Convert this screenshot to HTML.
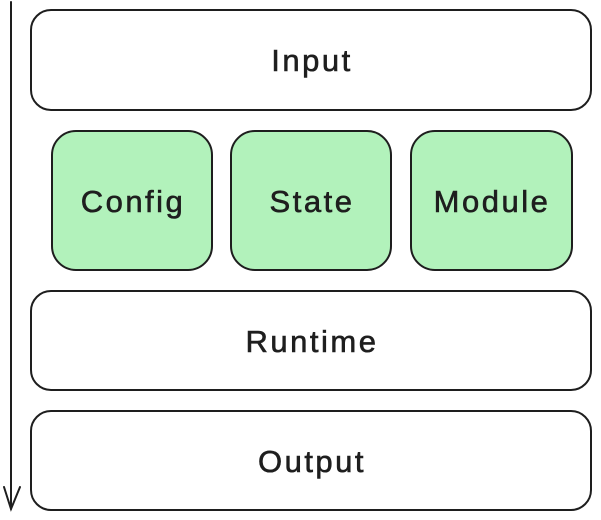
<!DOCTYPE html>
<html><head><style>html,body{margin:0;padding:0;background:#fff}svg{display:block}</style></head>
<body>
<svg width="601" height="520" viewBox="0 0 601 520" xmlns="http://www.w3.org/2000/svg">
<g fill="none" stroke="#1e1e1e" stroke-width="2" stroke-linecap="round">
<line x1="11" y1="2" x2="11" y2="509"/>
<polyline points="4,487 11,509 20,487"/>
</g>
<g stroke="#1e1e1e" stroke-width="2">
<rect x="31" y="10" width="560" height="100" rx="20" fill="#fff"/>
<rect x="52" y="131" width="160" height="139" rx="24" fill="#b2f2bb"/>
<rect x="231" y="131" width="160" height="139" rx="24" fill="#b2f2bb"/>
<rect x="411" y="131" width="161" height="139" rx="24" fill="#b2f2bb"/>
<rect x="31" y="291" width="560" height="99" rx="20" fill="#fff"/>
<rect x="31" y="411" width="560" height="99" rx="20" fill="#fff"/>
</g>
<g font-family="Liberation Sans, sans-serif" font-size="31" fill="#1e1e1e" stroke="#1e1e1e" stroke-width="0.6" text-anchor="middle" letter-spacing="2.5">
<text x="312" y="71">Input</text>
<text x="133" y="212">Config</text>
<text x="312" y="212">State</text>
<text x="492" y="212">Module</text>
<text x="312" y="352">Runtime</text>
<text x="312" y="472">Output</text>
</g>
</svg>
</body></html>
